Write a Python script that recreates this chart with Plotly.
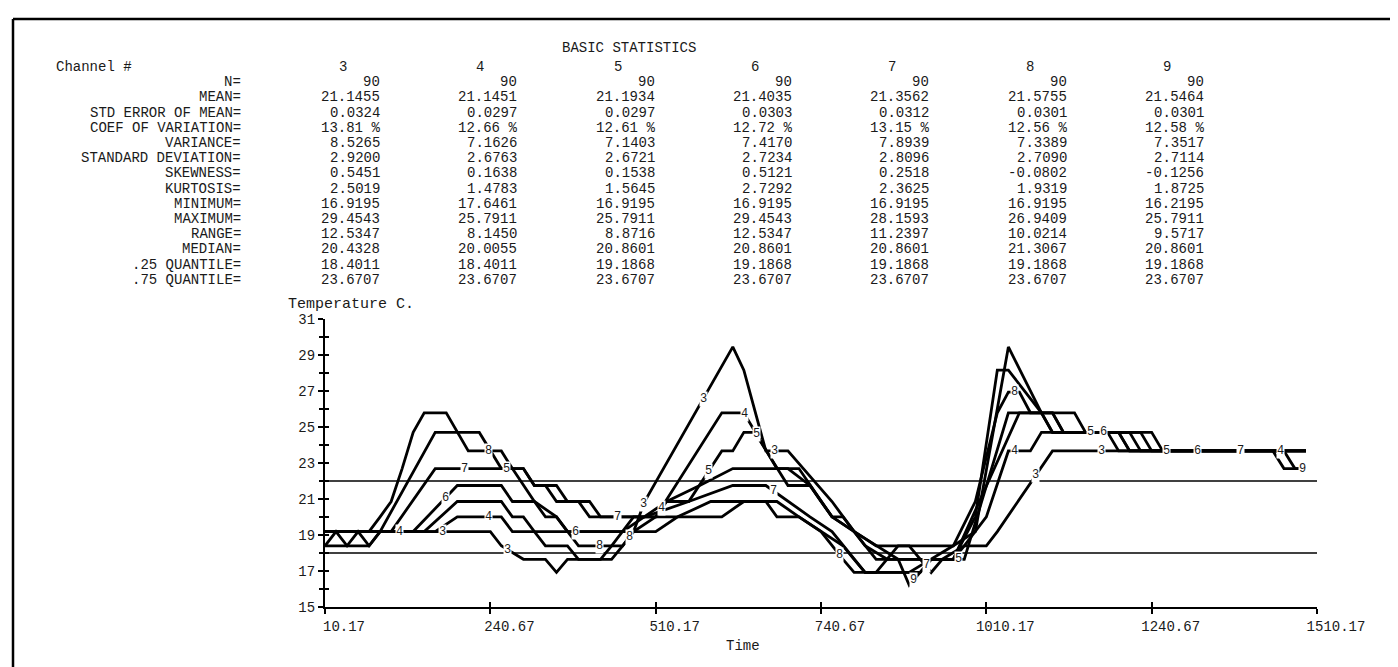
import numpy as np
import plotly.graph_objects as go

# ---------------- data ----------------
channels = ["3", "4", "5", "6", "7", "8", "9"]

ch3_time = [10.2, 260.2, 276.8, 310.2, 343.5, 360.2, 376.8, 443.5, 460.2, 476.8, 493.5, 626.8, 643.5, 676.8,
            710.2, 776.8, 810.2, 843.5, 943.5, 976.8, 1010.2, 1026.8, 1110.2, 1493.5]
ch3_temp = [19.19, 19.19, 18.40, 17.65, 17.65, 16.92, 17.65, 17.65, 18.40, 19.19, 20.86, 29.45, 28.16, 23.67,
            23.67, 20.86, 19.19, 17.65, 17.65, 18.40, 18.40, 19.19, 23.67, 23.67]

ch4_time = [10.2, 76.8, 93.5, 176.8, 210.2, 276.8, 293.5, 326.8, 343.5, 376.8, 393.5, 426.8, 443.5, 460.2,
            476.8, 510.2, 610.2, 643.5, 693.5, 726.8, 776.8, 793.5, 826.8, 860.2, 960.2, 976.8, 1010.2, 1043.5,
            1076.8, 1093.5, 1226.8, 1243.5, 1493.5]
ch4_temp = [18.40, 18.40, 19.19, 19.19, 20.01, 20.01, 19.19, 19.19, 18.40, 18.40, 17.65, 17.65, 18.40, 19.19,
            20.01, 20.01, 25.79, 25.79, 22.69, 22.69, 20.01, 20.01, 18.40, 17.65, 17.65, 18.40, 20.01, 23.67,
            23.67, 24.70, 24.70, 23.67, 23.67]

ch5_time = [10.2, 93.5, 176.8, 243.5, 276.8, 310.2, 326.8, 343.5, 360.2, 393.5, 410.2, 510.2, 526.8, 560.2,
            610.2, 626.8, 643.5, 660.2, 710.2, 743.5, 776.8, 810.2, 843.5, 893.5, 910.2, 926.8, 943.5, 976.8,
            1043.5, 1143.5, 1160.2, 1210.2, 1226.8, 1443.5, 1460.2, 1493.5]
ch5_temp = [19.19, 19.19, 24.70, 24.70, 22.69, 22.69, 21.75, 21.75, 20.86, 20.86, 20.01, 20.01, 20.86, 20.86,
            23.67, 23.67, 24.70, 24.70, 21.75, 21.75, 20.01, 19.19, 18.40, 18.40, 17.65, 16.92, 17.65, 17.65,
            25.79, 25.79, 24.70, 24.70, 23.67, 23.67, 22.69, 22.69]

ch6_time = [10.2, 143.5, 210.2, 276.8, 293.5, 326.8, 343.5, 360.2, 376.8, 510.2, 543.5, 593.5, 676.8, 693.5,
            726.8, 760.2, 793.5, 810.2, 826.8, 893.5, 926.8, 960.2, 993.5, 1043.5, 1093.5, 1110.2, 1193.5,
            1210.2, 1493.5]
ch6_temp = [19.19, 19.19, 21.75, 21.75, 20.86, 20.86, 20.01, 20.01, 19.19, 19.19, 20.01, 20.86, 20.86, 20.01,
            20.01, 19.19, 18.40, 17.65, 16.92, 16.92, 17.65, 18.40, 19.19, 29.45, 25.79, 24.70, 24.70,
            23.67, 23.67]

ch7_time = [10.2, 110.2, 176.8, 310.2, 326.8, 360.2, 376.8, 410.2, 426.8, 493.5, 560.2, 626.8, 676.8, 710.2,
            743.5, 776.8, 810.2, 826.8, 910.2, 926.8, 960.2, 993.5, 1026.8, 1043.5, 1093.5, 1110.2, 1210.2,
            1226.8, 1493.5]
ch7_temp = [19.19, 19.19, 22.69, 22.69, 21.75, 21.75, 20.86, 20.86, 20.01, 20.01, 20.86, 21.75, 21.75, 20.86,
            20.01, 19.19, 17.65, 16.92, 16.92, 17.65, 17.65, 20.01, 28.16, 28.16, 25.79, 24.70, 24.70,
            23.67, 23.67]

ch8_time = [10.2, 76.8, 93.5, 110.2, 126.8, 143.5, 160.2, 193.5, 226.8, 276.8, 293.5, 310.2, 326.8, 360.2,
            376.8, 393.5, 460.2, 476.8, 510.2, 610.2, 643.5, 693.5, 726.8, 760.2, 793.5, 810.2, 843.5, 860.2,
            876.8, 960.2, 993.5, 1026.8, 1043.5, 1060.2, 1076.8, 1110.2, 1126.8, 1243.5, 1260.2, 1493.5]
ch8_temp = [19.19, 19.19, 20.01, 20.86, 22.69, 24.70, 25.79, 25.79, 23.67, 23.67, 22.69, 21.75, 20.86, 20.01,
            19.19, 18.40, 18.40, 19.19, 20.01, 20.01, 20.86, 20.86, 20.01, 19.19, 17.65, 16.92, 16.92, 17.65,
            18.40, 18.40, 20.86, 25.79, 26.94, 26.94, 25.79, 25.79, 24.70, 24.70, 23.67, 23.67]

ch9_time = [10.2, 26.8, 43.5, 60.2, 76.8, 93.5, 160.2, 210.2, 276.8, 293.5, 310.2, 326.8, 460.2, 493.5,
            526.8, 576.8, 626.8, 710.2, 743.5, 760.2, 776.8, 810.2, 843.5, 876.8, 893.5, 910.2, 926.8, 960.2,
            1010.2, 1060.2, 1110.2, 1126.8, 1260.2, 1276.8, 1460.2, 1476.8, 1493.5]
ch9_temp = [18.40, 19.19, 18.40, 19.19, 18.40, 19.19, 19.19, 20.86, 20.86, 20.01, 20.01, 19.19, 19.19, 20.01,
            20.86, 21.75, 22.69, 22.69, 21.75, 20.86, 20.01, 19.19, 18.40, 17.65, 16.22, 16.92, 17.65, 17.65,
            21.75, 25.79, 25.79, 24.70, 24.70, 23.67, 23.67, 22.69, 22.69]

# times where the channel number is printed on its curve
ch3_label_t = [188.5, 286.8, 492.0, 582.0, 690.0, 1085.0, 1185.0]
ch4_label_t = [123.5, 257.0, 518.5, 645.0, 1052.0, 1455.0]
ch5_label_t = [285.0, 590.0, 662.0, 968.5, 1168.0, 1283.0]
ch6_label_t = [192.0, 388.5, 1187.0, 1330.0]
ch7_label_t = [221.8, 452.0, 688.5, 920.0, 1395.0]
ch8_label_t = [257.0, 425.0, 470.0, 788.5, 1052.0]
ch9_label_t = [900.0, 1488.0]

ref_levels = [22.0, 18.0]

x_tick_values = [10.17, 260.17, 510.17, 760.17, 1010.17, 1260.17, 1510.17]
x_tick_labels = ["10.17", "240.67", "510.17", "740.67", "1010.17", "1240.67", "1510.17"]
y_major_ticks = [15, 17, 19, 21, 23, 25, 27, 29, 31]
y_minor_ticks = [16, 18, 20, 22, 24, 26, 28, 30]

stat_names = ["N=", "MEAN=", "STD ERROR OF MEAN=", "COEF OF VARIATION=", "VARIANCE=",
              "STANDARD DEVIATION=", "SKEWNESS=", "KURTOSIS=", "MINIMUM=", "MAXIMUM=", "RANGE=",
              "MEDIAN=", ".25 QUANTILE=", ".75 QUANTILE="]
stats_ch3 = ["90", "21.1455", "0.0324", "13.81 %", "8.5265", "2.9200", "0.5451", "2.5019", "16.9195",
             "29.4543", "12.5347", "20.4328", "18.4011", "23.6707"]
stats_ch4 = ["90", "21.1451", "0.0297", "12.66 %", "7.1626", "2.6763", "0.1638", "1.4783", "17.6461",
             "25.7911", "8.1450", "20.0055", "18.4011", "23.6707"]
stats_ch5 = ["90", "21.1934", "0.0297", "12.61 %", "7.1403", "2.6721", "0.1538", "1.5645", "16.9195",
             "25.7911", "8.8716", "20.8601", "19.1868", "23.6707"]
stats_ch6 = ["90", "21.4035", "0.0303", "12.72 %", "7.4170", "2.7234", "0.5121", "2.7292", "16.9195",
             "29.4543", "12.5347", "20.8601", "19.1868", "23.6707"]
stats_ch7 = ["90", "21.3562", "0.0312", "13.15 %", "7.8939", "2.8096", "0.2518", "2.3625", "16.9195",
             "28.1593", "11.2397", "20.8601", "19.1868", "23.6707"]
stats_ch8 = ["90", "21.5755", "0.0301", "12.56 %", "7.3389", "2.7090", "-0.0802", "1.9319", "16.9195",
             "26.9409", "10.0214", "21.3067", "19.1868", "23.6707"]
stats_ch9 = ["90", "21.5464", "0.0301", "12.58 %", "7.3517", "2.7114", "-0.1256", "1.8725", "16.2195",
             "25.7911", "9.5717", "20.8601", "19.1868", "23.6707"]

# ---------------- layout helpers ----------------
W, H = 1398, 667
ML, MR, MT, MB = 317, 89, 311, 68
PW, PH = W - ML - MR, H - MT - MB
MONO = "Liberation Mono"
INK = "#1a1a1a"


def px(x):
    return (x - ML) / PW


def py(y):
    return (H - MB - y) / PH


series_time = [ch3_time, ch4_time, ch5_time, ch6_time, ch7_time, ch8_time, ch9_time]
series_temp = [ch3_temp, ch4_temp, ch5_temp, ch6_temp, ch7_temp, ch8_temp, ch9_temp]
series_lab = [ch3_label_t, ch4_label_t, ch5_label_t, ch6_label_t, ch7_label_t, ch8_label_t, ch9_label_t]
series_stats = [stats_ch3, stats_ch4, stats_ch5, stats_ch6, stats_ch7, stats_ch8, stats_ch9]

fig = go.Figure()

for lvl in ref_levels:
    fig.add_trace(go.Scatter(x=[x_tick_values[0], x_tick_values[-1]], y=[lvl, lvl], mode="lines",
                             line=dict(color="black", width=1.3), hoverinfo="skip", showlegend=False))

for name, t, T in zip(channels, series_time, series_temp):
    fig.add_trace(go.Scatter(x=t, y=T, mode="lines", name="Channel " + name,
                             line=dict(color="black", width=2.8), showlegend=False))

# dummy trace for overlay axes (crossing tick marks)
fig.add_trace(go.Scatter(x=[None], y=[None], xaxis="x2", yaxis="y2", showlegend=False, hoverinfo="skip"))

annotations = []
for name, t, T, labs in zip(channels, series_time, series_temp, series_lab):
    for lt in labs:
        annotations.append(dict(x=lt, y=float(np.interp(lt, t, T)), xref="x", yref="y", text=name,
                                showarrow=False, bgcolor="white", borderpad=0,
                                font=dict(family=MONO, size=12, color=INK)))

# statistics table
TITLE_Y = 40
HEAD_Y = 59
ROW_STEP = 15.2
LABEL_RIGHT = 234
COL_RIGHT0 = 373
COL_STEP = 137.3
TFONT = dict(family=MONO, size=14, color=INK)

annotations.append(dict(x=px(621), y=py(TITLE_Y), xref="paper", yref="paper", text="BASIC STATISTICS",
                        showarrow=False, xanchor="center", yanchor="middle", borderpad=0,
                        font=dict(family=MONO, size=14, color=INK)))
annotations.append(dict(x=px(47), y=py(HEAD_Y), xref="paper", yref="paper", text="Channel #",
                        showarrow=False, xanchor="left", yanchor="middle", borderpad=0, font=TFONT))
for k, name in enumerate(channels):
    annotations.append(dict(x=px(COL_RIGHT0 + k * COL_STEP - 38), y=py(HEAD_Y), xref="paper", yref="paper",
                            text=name, showarrow=False, xanchor="center", yanchor="middle", borderpad=0,
                            font=TFONT))
for r, sname in enumerate(stat_names):
    yy = py(HEAD_Y + (r + 1) * ROW_STEP)
    annotations.append(dict(x=px(LABEL_RIGHT), y=yy, xref="paper", yref="paper", text=sname,
                            showarrow=False, xanchor="right", yanchor="middle", borderpad=0, font=TFONT))
    for k, col in enumerate(series_stats):
        annotations.append(dict(x=px(COL_RIGHT0 + k * COL_STEP), y=yy, xref="paper", yref="paper",
                                text=col[r], showarrow=False, xanchor="right", yanchor="middle", borderpad=0,
                                font=TFONT))

annotations.append(dict(x=px(278), y=py(296), xref="paper", yref="paper", text="Temperature C.",
                        showarrow=False, xanchor="left", yanchor="middle", font=dict(family=MONO, size=15, color=INK)))
annotations.append(dict(x=px(735), y=py(638), xref="paper", yref="paper", text="Time",
                        showarrow=False, xanchor="center", yanchor="middle", font=dict(family=MONO, size=14, color=INK)))

# page border
shapes = []
for (x0, y0, x1, y1) in [(5, 11, 1395, 11), (5, 11, 5, 665), (1395, 11, 1395, 665), (462, 665, 1395, 665)]:
    shapes.append(dict(type="line", xref="paper", yref="paper", x0=px(x0), y0=py(y0), x1=px(x1), y1=py(y1),
                       line=dict(color="black", width=2.5)))

fig.update_layout(
    width=W, height=H,
    margin=dict(l=ML, r=MR, t=MT, b=MB),
    paper_bgcolor="white", plot_bgcolor="white",
    showlegend=False,
    font=dict(family=MONO, color=INK),
    xaxis=dict(range=[x_tick_values[0], x_tick_values[-1]], tickvals=x_tick_values, ticktext=x_tick_labels,
               showline=True, linecolor="black", linewidth=2.2, ticks="outside", ticklen=5, tickwidth=1.5,
               tickcolor="black", showgrid=False, zeroline=False, ticklabelshift=19,
               tickfont=dict(family=MONO, size=14, color=INK)),
    yaxis=dict(range=[15, 31], tickvals=y_major_ticks, showline=True, linecolor="black", linewidth=2.2,
               ticks="outside", ticklen=5, tickwidth=1.5, tickcolor="black", showgrid=False, zeroline=False,
               tickfont=dict(family=MONO, size=14, color=INK),
               minor=dict(tickvals=y_minor_ticks, ticks="outside", ticklen=4, tickwidth=1.5, tickcolor="black")),
    xaxis2=dict(overlaying="x", range=[x_tick_values[0], x_tick_values[-1]], tickvals=x_tick_values,
                ticks="inside", ticklen=5, tickwidth=1.5, tickcolor="black", showticklabels=False,
                showline=False, showgrid=False, zeroline=False, side="bottom", anchor="y2"),
    yaxis2=dict(overlaying="y", range=[15, 31], tickvals=y_major_ticks + y_minor_ticks, ticks="inside",
                ticklen=4, tickwidth=1.5, tickcolor="black", showticklabels=False, showline=False,
                showgrid=False, zeroline=False, side="left", anchor="x2"),
    annotations=annotations,
    shapes=shapes,
)

fig.write_html("out.html")
